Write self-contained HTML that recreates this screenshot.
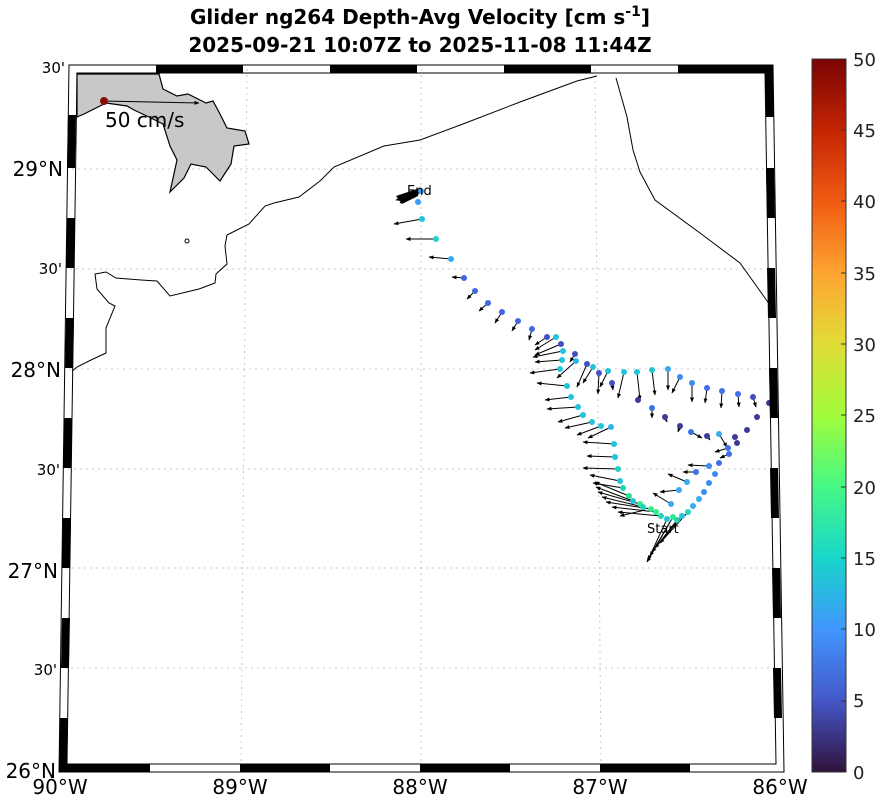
<!DOCTYPE html>
<html><head><meta charset="utf-8"><style>
html,body{margin:0;padding:0;background:#fff;}
svg{display:block;font-family:"DejaVu Sans","Liberation Sans",sans-serif;}
</style></head><body>
<svg width="876" height="796" viewBox="0 0 876 796" xmlns="http://www.w3.org/2000/svg">
<defs>
<marker id="ah" viewBox="0 0 10 10" refX="9" refY="5" markerWidth="5" markerHeight="5" orient="auto" markerUnits="userSpaceOnUse">
<path d="M0,1 L10,5 L0,9 Z" fill="#000"/></marker>
<linearGradient id="turbo" x1="0" y1="1" x2="0" y2="0">
<stop offset="0" stop-color="#30123b"/><stop offset="0.1" stop-color="#4457c8"/>
<stop offset="0.2" stop-color="#4196ff"/><stop offset="0.3" stop-color="#18d6cb"/>
<stop offset="0.4" stop-color="#46f884"/><stop offset="0.5" stop-color="#a2fc3c"/>
<stop offset="0.6" stop-color="#e1dd37"/><stop offset="0.7" stop-color="#fea431"/>
<stop offset="0.8" stop-color="#f05b12"/><stop offset="0.9" stop-color="#c42503"/>
<stop offset="1" stop-color="#7a0403"/></linearGradient>
</defs>
<text x="420" y="24" font-size="20" font-weight="bold" text-anchor="middle">Glider ng264 Depth-Avg Velocity [cm s<tspan dy="-8" font-size="14">-1</tspan><tspan dy="8">]</tspan></text>
<text x="420" y="52" font-size="20" font-weight="bold" text-anchor="middle">2025-09-21 10:07Z to 2025-11-08 11:44Z</text>

<g stroke="#c8c8c8" stroke-width="1" stroke-dasharray="2,4" fill="none">
<line x1="247" y1="69" x2="241" y2="768"/><line x1="421" y1="69" x2="421" y2="768"/><line x1="595" y1="69" x2="601" y2="768"/>
<line x1="72" y1="169" x2="770" y2="169"/><line x1="70" y1="269" x2="772" y2="269"/>
<line x1="69" y1="369" x2="774" y2="369"/><line x1="68" y1="469" x2="775" y2="469"/>
<line x1="66" y1="568" x2="777" y2="568"/><line x1="65" y1="668" x2="778" y2="668"/>
</g>

<path d="M77,74 L159,74 L163,89 L177,96 L188,94 L206,103 L213,101 L220,114 L227,128 L245,131 L249,144 L234,146 L231,164 L220,181 L206,167 L191,164 L184,178 L170,192 L177,160 L170,146 L163,124 L149,117 L134,110 L127,106 L106,103 L84,114 L77,117 Z" fill="#c8c8c8" stroke="#000" stroke-width="1.2"/>
<path d="M597,76 L577,81 L520,102 L463,124 L420,140 L384,146 L334,167 L320,181 L299,197 L274,203 L265,206 L249,224 L227,235 L225,246 L227,264 L216,274 L215,283 L199,289 L170,296 L157,281 L141,280 L116,278 L106,272 L95,274 L97,289 L109,303 L115,306 L106,328 L106,353 L91,360 L77,367 L72,371" fill="none" stroke="#000" stroke-width="1"/>
<path d="M616,78 L627,117 L633,150 L640,172 L655,200 L700,233 L740,263 L770,305" fill="none" stroke="#000" stroke-width="1"/>
<circle cx="187" cy="241" r="2" fill="none" stroke="#000"/>

<line x1="104" y1="101" x2="199" y2="103" stroke="#000" stroke-width="1" marker-end="url(#ah)"/>
<circle cx="104" cy="101" r="4" fill="#8b0a05"/>
<text x="105" y="127" font-size="20">50 cm/s</text>

<g stroke="#000" stroke-width="1" marker-end="url(#ah)">
<line x1="422" y1="219" x2="394" y2="224"/><line x1="436" y1="239" x2="406" y2="239"/>
<line x1="451" y1="259" x2="429" y2="257"/><line x1="464" y1="278" x2="452" y2="277"/>
<line x1="475" y1="291" x2="467" y2="299"/><line x1="488" y1="303" x2="479" y2="311"/>
<line x1="502" y1="312" x2="495" y2="323"/><line x1="518" y1="321" x2="512" y2="331"/>
<line x1="532" y1="329" x2="529" y2="340"/>
<line x1="547" y1="337" x2="535" y2="345"/><line x1="556" y1="337" x2="535" y2="350"/>
<line x1="561" y1="344" x2="535" y2="355"/><line x1="563" y1="351" x2="533" y2="357"/>
<line x1="575" y1="354" x2="570" y2="362"/><line x1="562" y1="360" x2="535" y2="362"/>
<line x1="576" y1="361" x2="557" y2="378"/><line x1="587" y1="364" x2="577" y2="387"/>
<line x1="593" y1="367" x2="583" y2="383"/><line x1="560" y1="369" x2="530" y2="373"/>
<line x1="599" y1="373" x2="598" y2="394"/><line x1="608" y1="371" x2="600" y2="387"/>
<line x1="612" y1="383" x2="613" y2="390"/><line x1="624" y1="372" x2="618" y2="398"/>
<line x1="637" y1="372" x2="640" y2="400"/><line x1="652" y1="370" x2="655" y2="395"/>
<line x1="668" y1="369" x2="668" y2="390"/><line x1="680" y1="377" x2="672" y2="393"/>
<line x1="692" y1="383" x2="692" y2="402"/><line x1="707" y1="388" x2="705" y2="403"/>
<line x1="722" y1="391" x2="721" y2="408"/><line x1="738" y1="394" x2="739" y2="407"/>
<line x1="753" y1="397" x2="756" y2="407"/>
<line x1="567" y1="386" x2="537" y2="383"/><line x1="571" y1="397" x2="545" y2="400"/>
<line x1="578" y1="407" x2="547" y2="409"/><line x1="583" y1="415" x2="558" y2="422"/>
<line x1="592" y1="422" x2="565" y2="428"/><line x1="601" y1="426" x2="577" y2="435"/>
<line x1="611" y1="427" x2="588" y2="438"/>
<line x1="652" y1="408" x2="652" y2="418"/><line x1="665" y1="417" x2="667" y2="422"/>
<line x1="680" y1="426" x2="678" y2="432"/><line x1="691" y1="432" x2="702" y2="438"/>
<line x1="707" y1="436" x2="710" y2="440"/><line x1="719" y1="434" x2="727" y2="447"/>
<line x1="728" y1="448" x2="715" y2="452"/><line x1="729" y1="454" x2="720" y2="458"/>
<line x1="614" y1="444" x2="583" y2="442"/><line x1="615" y1="457" x2="587" y2="456"/>
<line x1="618" y1="469" x2="583" y2="468"/><line x1="620" y1="481" x2="590" y2="475"/>
<line x1="623" y1="488" x2="593" y2="483"/>
<line x1="629" y1="496" x2="595" y2="482"/><line x1="633" y1="501" x2="596" y2="487"/>
<line x1="640" y1="504" x2="598" y2="492"/><line x1="643" y1="507" x2="602" y2="497"/>
<line x1="651" y1="509" x2="606" y2="502"/><line x1="656" y1="512" x2="612" y2="507"/>
<line x1="661" y1="516" x2="618" y2="512"/><line x1="645" y1="510" x2="620" y2="516"/>
<line x1="667" y1="519" x2="648" y2="560"/><line x1="673" y1="517" x2="650" y2="556"/>
<line x1="677" y1="520" x2="652" y2="552"/><line x1="682" y1="516" x2="655" y2="548"/>
<line x1="688" y1="512" x2="660" y2="543"/><line x1="670" y1="522" x2="647" y2="562"/>
<line x1="709" y1="466" x2="688" y2="465"/><line x1="696" y1="472" x2="683" y2="472"/>
<line x1="687" y1="482" x2="668" y2="474"/><line x1="679" y1="490" x2="660" y2="492"/>
<line x1="671" y1="504" x2="653" y2="493"/>
<line x1="418" y1="195" x2="396" y2="200"/><line x1="420" y1="193" x2="398" y2="197"/>
<line x1="419" y1="192" x2="400" y2="203"/>
</g>
<path d="M396,196 L420,188 L418,196 L402,204 Z" fill="#000"/>

<g>
<circle cx="421" cy="191" r="3" fill="#3a9cf0"/><circle cx="418" cy="202" r="3" fill="#3a9cf0"/>
<circle cx="422" cy="219" r="3" fill="#22c4dc"/><circle cx="436" cy="239" r="3" fill="#20d4c8"/>
<circle cx="451" cy="259" r="3" fill="#3aaaf0"/><circle cx="464" cy="278" r="3" fill="#4066e0"/>
<circle cx="475" cy="291" r="3" fill="#4066e0"/><circle cx="488" cy="303" r="3" fill="#4066e0"/>
<circle cx="502" cy="312" r="3" fill="#4066e0"/><circle cx="518" cy="321" r="3" fill="#4066e0"/>
<circle cx="532" cy="329" r="3" fill="#4066e0"/>
<circle cx="547" cy="337" r="3" fill="#4450c0"/><circle cx="556" cy="337" r="3" fill="#22c4dc"/>
<circle cx="561" cy="344" r="3" fill="#4450c0"/><circle cx="563" cy="351" r="3" fill="#22c4dc"/>
<circle cx="575" cy="354" r="3" fill="#4450c0"/><circle cx="562" cy="360" r="3" fill="#22c4dc"/>
<circle cx="576" cy="361" r="3" fill="#2ab8e8"/><circle cx="587" cy="364" r="3" fill="#4450c0"/>
<circle cx="593" cy="367" r="3" fill="#22c4dc"/><circle cx="560" cy="369" r="3" fill="#22c4dc"/>
<circle cx="599" cy="373" r="3" fill="#4450c0"/><circle cx="608" cy="371" r="3" fill="#22c4dc"/>
<circle cx="612" cy="383" r="3" fill="#4450c0"/><circle cx="624" cy="372" r="3" fill="#22c4dc"/>
<circle cx="637" cy="372" r="3" fill="#22c4dc"/><circle cx="652" cy="370" r="3" fill="#22c4dc"/>
<circle cx="668" cy="369" r="3" fill="#3aaaf0"/><circle cx="680" cy="377" r="3" fill="#3a8cf0"/>
<circle cx="692" cy="383" r="3" fill="#3a8cf0"/><circle cx="707" cy="388" r="3" fill="#4070e8"/>
<circle cx="722" cy="391" r="3" fill="#4070e8"/><circle cx="738" cy="394" r="3" fill="#4070e8"/>
<circle cx="753" cy="397" r="3" fill="#4450c0"/><circle cx="769" cy="403" r="3" fill="#3e3a98"/>
<circle cx="757" cy="417" r="3" fill="#3e3a98"/><circle cx="747" cy="430" r="3" fill="#3e3a98"/>
<circle cx="735" cy="437" r="3" fill="#3e3a98"/><circle cx="737" cy="443" r="3" fill="#3e3a98"/>
<circle cx="567" cy="386" r="3" fill="#22c4dc"/><circle cx="571" cy="397" r="3" fill="#22c4dc"/>
<circle cx="578" cy="407" r="3" fill="#22c4dc"/><circle cx="583" cy="415" r="3" fill="#22c4dc"/>
<circle cx="592" cy="422" r="3" fill="#22c4dc"/><circle cx="601" cy="426" r="3" fill="#22c4dc"/>
<circle cx="611" cy="427" r="3" fill="#2ab8e8"/>
<circle cx="638" cy="400" r="3" fill="#3e3a98"/><circle cx="652" cy="408" r="3" fill="#4070e8"/>
<circle cx="665" cy="417" r="3" fill="#3e3a98"/><circle cx="680" cy="426" r="3" fill="#3e3a98"/>
<circle cx="691" cy="432" r="3" fill="#4070e8"/><circle cx="707" cy="436" r="3" fill="#3e3a98"/>
<circle cx="719" cy="434" r="3" fill="#3aaaf0"/><circle cx="728" cy="448" r="3" fill="#4070e8"/>
<circle cx="729" cy="454" r="3" fill="#4070e8"/>
<circle cx="614" cy="444" r="3" fill="#22c4dc"/><circle cx="615" cy="457" r="3" fill="#22c4dc"/>
<circle cx="618" cy="469" r="3" fill="#22d4b8"/><circle cx="620" cy="481" r="3" fill="#22c4dc"/>
<circle cx="623" cy="488" r="3" fill="#22d4b8"/><circle cx="629" cy="496" r="3" fill="#2ade9a"/>
<circle cx="633" cy="501" r="3" fill="#22c4dc"/><circle cx="640" cy="504" r="3" fill="#34ea8c"/>
<circle cx="643" cy="507" r="3" fill="#22d4b8"/><circle cx="651" cy="509" r="3" fill="#34ea8c"/>
<circle cx="656" cy="512" r="3" fill="#34ea8c"/><circle cx="661" cy="516" r="3" fill="#22d4b8"/>
<circle cx="667" cy="519" r="3" fill="#22c4dc"/><circle cx="673" cy="517" r="3" fill="#34ea8c"/>
<circle cx="677" cy="520" r="3" fill="#22d4b8"/><circle cx="682" cy="516" r="3" fill="#22c4dc"/>
<circle cx="688" cy="512" r="3" fill="#22d4b8"/><circle cx="693" cy="506" r="3" fill="#3aaaf0"/>
<circle cx="699" cy="499" r="3" fill="#3aaaf0"/><circle cx="704" cy="492" r="3" fill="#3a8cf0"/>
<circle cx="709" cy="483" r="3" fill="#3a8cf0"/><circle cx="715" cy="474" r="3" fill="#3a8cf0"/>
<circle cx="719" cy="463" r="3" fill="#4070e8"/><circle cx="709" cy="466" r="3" fill="#3a8cf0"/>
<circle cx="696" cy="472" r="3" fill="#4070e8"/><circle cx="687" cy="482" r="3" fill="#3aaaf0"/>
<circle cx="679" cy="490" r="3" fill="#3aaaf0"/><circle cx="671" cy="504" r="3" fill="#3aaaf0"/>
</g>
<text x="407" y="195" font-size="13">End</text>
<text x="647" y="533" font-size="13">Start</text>

<g fill="#000">
<rect x="156" y="65" width="87" height="8"/><rect x="330" y="65" width="87" height="8"/>
<rect x="504" y="65" width="87" height="8"/><rect x="678" y="65" width="95" height="8"/>
<polygon points="59,764 150,764 150,772 59,772"/><polygon points="240,764 330,764 330,772 240,772"/>
<polygon points="420,764 510,764 510,772 420,772"/><polygon points="600,764 690,764 690,772 600,772"/>
<polygon points="68,115 76,115 75,168 67,168"/><polygon points="67,218 75,218 74,268 66,268"/>
<polygon points="66,318 74,318 73,368 65,368"/><polygon points="64,418 72,418 71,468 63,468"/>
<polygon points="63,518 71,518 70,568 62,568"/><polygon points="62,618 70,618 69,668 61,668"/>
<polygon points="60,718 68,718 67,772 59,772"/>
<polygon points="765,65 773,65 774,117 766,117"/><polygon points="766,168 774,168 775,218 767,218"/>
<polygon points="767,268 775,268 776,318 768,318"/><polygon points="769,368 777,368 778,418 770,418"/>
<polygon points="770,468 778,468 779,518 771,518"/><polygon points="772,568 780,568 781,618 773,618"/>
<polygon points="773,668 781,668 782,718 774,718"/>
</g>
<g stroke="#000" stroke-width="1" fill="none">
<polygon points="69,65 773,65 784,772 59,772"/>
<polygon points="77,73 765,73 776,764 67,764"/>
</g>

<g font-size="20" text-anchor="end">
<text x="63" y="176">29°N</text><text x="61" y="377">28°N</text>
<text x="58" y="578">27°N</text><text x="56" y="778">26°N</text>
</g>
<g font-size="15" text-anchor="end">
<text x="65" y="73">30'</text><text x="62" y="274">30'</text>
<text x="60" y="475">30'</text><text x="57" y="675">30'</text>
</g>
<g font-size="20" text-anchor="middle">
<text x="60" y="794">90°W</text><text x="240" y="794">89°W</text>
<text x="420" y="794">88°W</text><text x="600" y="794">87°W</text>
<text x="780" y="794">86°W</text>
</g>

<rect x="812" y="59" width="34" height="713" fill="url(#turbo)" stroke="#333" stroke-width="1"/>
<g stroke="#333" stroke-width="1">
<line x1="841" y1="701" x2="846" y2="701"/>
<line x1="841" y1="629" x2="846" y2="629"/><line x1="841" y1="558" x2="846" y2="558"/>
<line x1="841" y1="487" x2="846" y2="487"/><line x1="841" y1="415" x2="846" y2="415"/>
<line x1="841" y1="344" x2="846" y2="344"/><line x1="841" y1="273" x2="846" y2="273"/>
<line x1="841" y1="201" x2="846" y2="201"/><line x1="841" y1="130" x2="846" y2="130"/>
</g>
<g font-size="18" fill="#222">
<text x="853" y="779">0</text><text x="853" y="707">5</text><text x="853" y="636">10</text>
<text x="853" y="565">15</text><text x="853" y="494">20</text><text x="853" y="422">25</text>
<text x="853" y="351">30</text><text x="853" y="280">35</text><text x="853" y="208">40</text>
<text x="853" y="137">45</text><text x="853" y="66">50</text>
</g>
</svg>
</body></html>
